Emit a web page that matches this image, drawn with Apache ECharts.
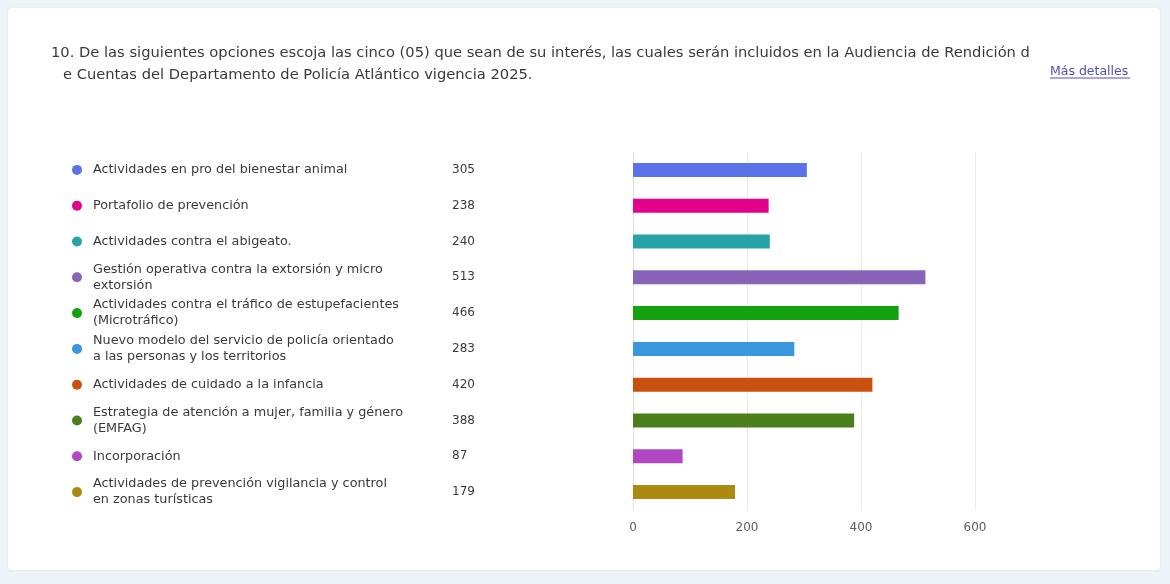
<!DOCTYPE html>
<html><head><meta charset="utf-8">
<script src="https://cdn.jsdelivr.net/npm/echarts@6/dist/echarts.min.js"></script>
<style>
html,body{margin:0;padding:0;background:#edf4f7;}
#card{position:absolute;left:8px;top:8px;width:1152px;height:562px;background:#fff;border-radius:4px;box-shadow:0 0 3px rgba(0,0,0,0.08);}
#c{position:absolute;left:0;top:0;width:1170px;height:584px;}
</style></head>
<body>
<div id="card"></div>
<div id="c"></div>
<script>
const titleLine1 = "10. De las siguientes opciones escoja las cinco (05) que sean de su interés, las cuales serán incluidos en la Audiencia de Rendición d";
const titleLine2 = "e Cuentas del Departamento de Policía Atlántico vigencia 2025.";
const linkText = "Más detalles";
const categories = [
  "Actividades en pro del bienestar animal",
  "Portafolio de prevención",
  "Actividades contra el abigeato.",
  "Gestión operativa contra la extorsión y micro\nextorsión",
  "Actividades contra el tráfico de estupefacientes\n(Microtráfico)",
  "Nuevo modelo del servicio de policía orientado\na las personas y los territorios",
  "Actividades de cuidado a la infancia",
  "Estrategia de atención a mujer, familia y género\n(EMFAG)",
  "Incorporación",
  "Actividades de prevención vigilancia y control\nen zonas turísticas"
];
const values = [305, 238, 240, 513, 466, 283, 420, 388, 87, 179];
const colors = ["#5b73e8", "#e3008c", "#27a2a6", "#8764b8", "#13a10e", "#3a96dd", "#ca5010", "#4b7f1c", "#b146c2", "#ab8a0f"];
const xTicks = [0, 200, 400, 600];

const chart = echarts.init(document.getElementById('c'));
const font = "'DejaVu Sans', sans-serif";
const dotRich = {};
colors.forEach((c, i) => { dotRich['d' + i] = {width: 10, height: 10, borderRadius: 5, backgroundColor: c}; });

chart.setOption({
  backgroundColor: 'transparent',
  textStyle: {fontFamily: font},
  title: [
    {text: titleLine1, left: 51, top: 46, padding: 0, textStyle: {fontSize: 14.7, fontWeight: 'normal', color: '#3b3a39', fontFamily: font}},
    {text: titleLine2, left: 63, top: 68, padding: 0, textStyle: {fontSize: 14.7, fontWeight: 'normal', color: '#3b3a39', fontFamily: font}},
    {text: linkText, left: 1050, top: 65, padding: 0, textStyle: {fontSize: 12.5, fontWeight: 'normal', color: '#4f52b2', fontFamily: font}}
  ],
  graphic: [
    {type: 'line', shape: {x1: 1050, y1: 78, x2: 1130, y2: 78}, style: {stroke: '#4f52b2', lineWidth: 1}}
  ],
  grid: {left: 633, right: 195, top: 152, bottom: 74, containLabel: false},
  xAxis: {
    type: 'value', min: 0, max: 600, interval: 200,
    axisLine: {show: false}, axisTick: {show: false},
    splitLine: {show: true, lineStyle: {color: '#edebe9', width: 1}},
    axisLabel: {color: '#605e5c', fontSize: 12, margin: 12, fontFamily: font,
      formatter: v => xTicks.includes(v) ? String(v) : ''}
  },
  yAxis: [
    {
      type: 'category', data: categories, inverse: true,
      axisLine: {show: true, lineStyle: {color: '#e1dfdd'}}, axisTick: {show: false},
      axisLabel: {align: 'left', margin: 540, color: '#3b3a39', fontSize: 12.8, lineHeight: 16, fontFamily: font}
    },
    {
      type: 'category', data: categories, inverse: true, position: 'left',
      axisLine: {show: false}, axisTick: {show: false},
      axisLabel: {align: 'left', margin: 181, color: '#3b3a39', fontSize: 12, fontFamily: font,
        formatter: (v, i) => String(values[i])}
    },
    {
      type: 'category', data: categories, inverse: true, position: 'left',
      axisLine: {show: false}, axisTick: {show: false},
      axisLabel: {align: 'left', margin: 561, rich: dotRich,
        formatter: (v, i) => '{d' + i + '|}'}
    }
  ],
  series: [{
    type: 'bar', data: values.map((v, i) => ({value: v, itemStyle: {color: colors[i]}})),
    barWidth: 14, silent: true, animation: false
  }],
  animation: false
});
</script>
</body></html>
